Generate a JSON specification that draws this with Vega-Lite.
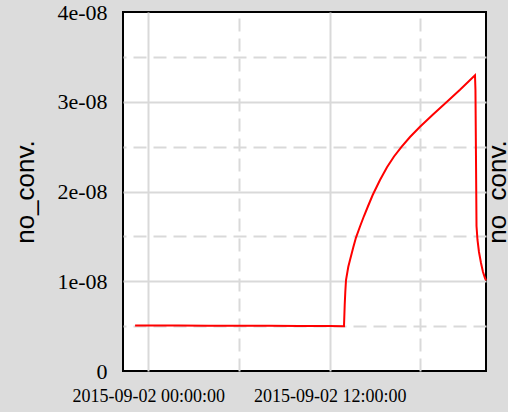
{
  "$schema": "https://vega.github.io/schema/vega-lite/v6.json",
  "width": 363,
  "height": 359,
  "autosize": "none",
  "padding": {"left": 123, "top": 12, "right": 22, "bottom": 41},
  "background": "#dcdcdc",
  "config": {
    "view": {"fill": "white", "stroke": "black", "strokeWidth": 2},
    "axis": {"gridColor": "#d9d9d9", "gridWidth": 2, "gridOpacity": 1}
  },
  "data": {
    "values": [
      {"time": "2015-09-01T23:08:00Z", "no_conv": 5.06e-9},
      {"time": "2015-09-02T00:30:00Z", "no_conv": 5.07e-9},
      {"time": "2015-09-02T02:00:00Z", "no_conv": 5.06e-9},
      {"time": "2015-09-02T04:00:00Z", "no_conv": 5.05e-9},
      {"time": "2015-09-02T06:00:00Z", "no_conv": 5.04e-9},
      {"time": "2015-09-02T08:00:00Z", "no_conv": 5.03e-9},
      {"time": "2015-09-02T10:00:00Z", "no_conv": 5.02e-9},
      {"time": "2015-09-02T12:00:00Z", "no_conv": 5.01e-9},
      {"time": "2015-09-02T12:56:40Z", "no_conv": 5.0e-9},
      {"time": "2015-09-02T12:59:30Z", "no_conv": 7.35e-9},
      {"time": "2015-09-02T13:01:50Z", "no_conv": 8.8e-9},
      {"time": "2015-09-02T13:04:40Z", "no_conv": 1.014e-8},
      {"time": "2015-09-02T13:13:45Z", "no_conv": 1.162e-8},
      {"time": "2015-09-02T13:20:30Z", "no_conv": 1.237e-8},
      {"time": "2015-09-02T13:33:35Z", "no_conv": 1.38e-8},
      {"time": "2015-09-02T13:44:15Z", "no_conv": 1.487e-8},
      {"time": "2015-09-02T14:00:10Z", "no_conv": 1.61e-8},
      {"time": "2015-09-02T14:16:00Z", "no_conv": 1.727e-8},
      {"time": "2015-09-02T14:33:05Z", "no_conv": 1.844e-8},
      {"time": "2015-09-02T14:50:30Z", "no_conv": 1.961e-8},
      {"time": "2015-09-02T15:19:30Z", "no_conv": 2.128e-8},
      {"time": "2015-09-02T15:47:15Z", "no_conv": 2.27e-8},
      {"time": "2015-09-02T16:15:05Z", "no_conv": 2.39e-8},
      {"time": "2015-09-02T16:45:35Z", "no_conv": 2.501e-8},
      {"time": "2015-09-02T17:18:30Z", "no_conv": 2.607e-8},
      {"time": "2015-09-02T17:58:10Z", "no_conv": 2.722e-8},
      {"time": "2015-09-02T18:49:45Z", "no_conv": 2.858e-8},
      {"time": "2015-09-02T19:44:05Z", "no_conv": 2.997e-8},
      {"time": "2015-09-02T20:36:50Z", "no_conv": 3.133e-8},
      {"time": "2015-09-02T21:36:20Z", "no_conv": 3.295e-8},
      {"time": "2015-09-02T21:38:10Z", "no_conv": 3.13e-8},
      {"time": "2015-09-02T21:40:20Z", "no_conv": 2.35e-8},
      {"time": "2015-09-02T21:42:20Z", "no_conv": 1.616e-8},
      {"time": "2015-09-02T21:46:15Z", "no_conv": 1.46e-8},
      {"time": "2015-09-02T21:52:10Z", "no_conv": 1.326e-8},
      {"time": "2015-09-02T22:00:10Z", "no_conv": 1.203e-8},
      {"time": "2015-09-02T22:08:05Z", "no_conv": 1.103e-8},
      {"time": "2015-09-02T22:16:00Z", "no_conv": 1.036e-8},
      {"time": "2015-09-02T22:20:00Z", "no_conv": 1.01e-8}
    ]
  },
  "resolve": {"axis": {"x": "independent", "y": "independent"}},
  "layer": [
    {
      "mark": {"type": "line", "strokeOpacity": 0},
      "encoding": {
        "x": {
          "field": "time", "type": "temporal",
          "scale": {"type": "utc", "domain": [
            {"year": 2015, "month": 9, "date": 1, "hours": 22, "minutes": 20, "utc": true},
            {"year": 2015, "month": 9, "date": 2, "hours": 22, "minutes": 20, "utc": true}
          ]},
          "axis": {
            "orient": "top", "title": null, "labels": false, "ticks": false, "domain": false,
            "grid": true, "gridDash": [13, 7],
            "values": [
              {"year": 2015, "month": 9, "date": 2, "hours": 6, "utc": true},
              {"year": 2015, "month": 9, "date": 2, "hours": 18, "utc": true}
            ]
          }
        },
        "y": {
          "field": "no_conv", "type": "quantitative",
          "scale": {"domain": [0, 4e-8], "nice": false, "zero": true},
          "axis": {
            "orient": "right", "labels": false, "ticks": false, "domain": false,
            "grid": true, "gridDash": [13, 7],
            "values": [0.5e-8, 1.5e-8, 2.5e-8, 3.5e-8],
            "title": "no_conv.", "titleFont": "Liberation Sans", "titleFontSize": 26,
            "titleFontWeight": "normal", "titleColor": "black",
            "titleAngle": -90, "titleBaseline": "alphabetic", "titleAlign": "center",
            "titleX": 19, "titleY": 179.5
          }
        }
      }
    },
    {
      "mark": {"type": "line", "color": "#ff0000", "strokeWidth": 2},
      "encoding": {
        "x": {
          "field": "time", "type": "temporal",
          "axis": {
            "orient": "bottom", "title": null, "ticks": false, "domain": false,
            "grid": true,
            "format": "%Y-%m-%d %H:%M:%S",
            "labelFont": "Liberation Serif", "labelFontSize": 18, "labelColor": "black",
            "labelPadding": 16, "labelFlush": false, "labelOverlap": false,
            "values": [
              {"year": 2015, "month": 9, "date": 2, "hours": 0, "utc": true},
              {"year": 2015, "month": 9, "date": 2, "hours": 12, "utc": true}
            ]
          }
        },
        "y": {
          "field": "no_conv", "type": "quantitative",
          "axis": {
            "orient": "left", "ticks": false, "domain": false,
            "grid": true,
            "gridOpacity": {"condition": {"test": "datum.value > 0 && datum.value < 3.9e-8", "value": 1}, "value": 0},
            "values": [0, 1e-8, 2e-8, 3e-8, 4e-8],
            "labelExpr": "datum.value == 0 ? '0' : replace(format(datum.value, '.0e'), 'e-', 'e-0')",
            "labelFont": "Liberation Serif", "labelFontSize": 22, "labelColor": "black",
            "labelPadding": 16, "labelFlush": false, "labelOverlap": false,
            "title": "no_conv.", "titleFont": "Liberation Sans", "titleFontSize": 26,
            "titleFontWeight": "normal", "titleColor": "black",
            "titleAngle": -90, "titleBaseline": "alphabetic", "titleAlign": "center",
            "titleX": -90, "titleY": 179.5
          }
        }
      }
    }
  ]
}
